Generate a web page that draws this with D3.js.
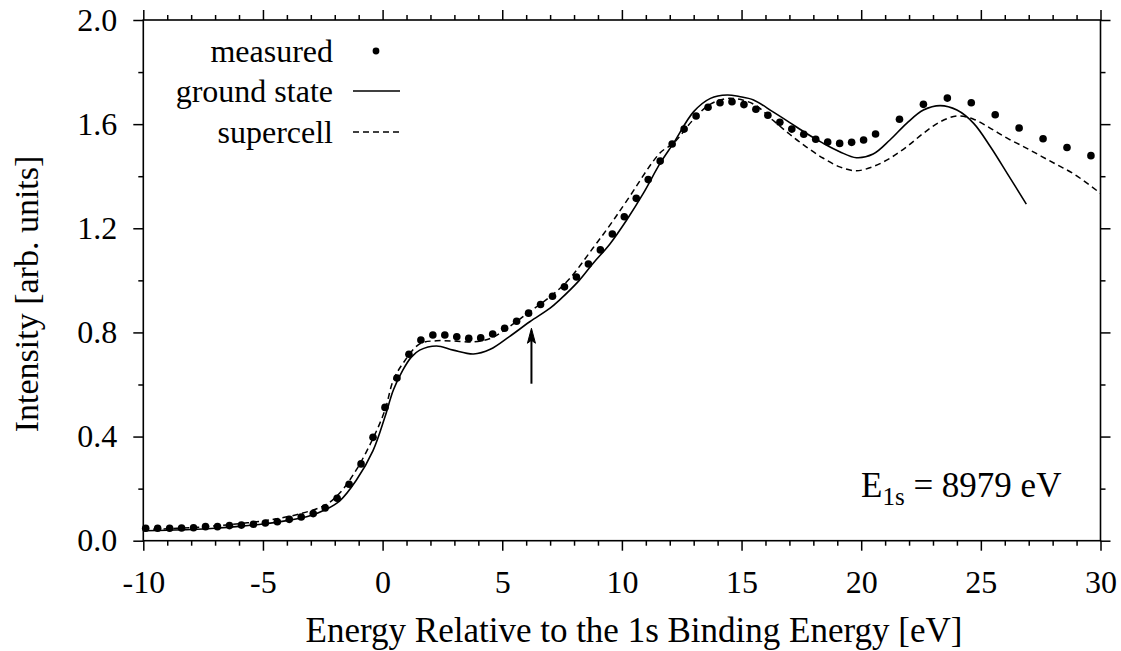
<!DOCTYPE html>
<html>
<head>
<meta charset="utf-8">
<script src="https://cdn.jsdelivr.net/npm/d3@7"></script>
<style>
  body { margin: 0; background: #fff; }
  svg { display: block; }
  text { font-family: "Liberation Serif", "Times New Roman", serif; fill: #000; }
</style>
</head>
<body>
<svg id="chart" width="1121" height="651"></svg>
<script>
// Measured Cu K-edge spectrum (energy in eV relative to the 1s binding energy)
const measuredEnergy = [
  -9.9, -9.4, -8.9, -8.4, -7.9, -7.4, -6.9, -6.4, -5.9, -5.4,
  -4.9, -4.4, -3.9, -3.4, -2.9, -2.4, -1.9, -1.4, -0.9, -0.4,
  0.1, 0.6, 1.1, 1.6, 2.1, 2.6, 3.1, 3.6, 4.1, 4.6,
  5.1, 5.6, 6.1, 6.6, 7.1, 7.6, 8.1, 8.6, 9.1, 9.6,
  10.1, 10.6, 11.1, 11.6, 12.1, 12.6, 13.1, 13.6, 14.1, 14.6,
  15.1, 15.6, 16.1, 16.6, 17.1, 17.6, 18.1, 18.6, 19.1, 19.6,
  20.1, 20.6, 21.6, 22.6, 23.6, 24.6, 25.6, 26.6, 27.6, 28.6, 29.6
];
const measuredIntensity = [
  0.048, 0.048, 0.048, 0.049, 0.050, 0.054, 0.054, 0.058, 0.060, 0.063,
  0.068, 0.073, 0.082, 0.091, 0.104, 0.126, 0.163, 0.217, 0.295, 0.397,
  0.512, 0.625, 0.716, 0.771, 0.790, 0.790, 0.783, 0.777, 0.779, 0.794,
  0.816, 0.843, 0.874, 0.907, 0.939, 0.975, 1.013, 1.063, 1.117, 1.178,
  1.244, 1.315, 1.387, 1.458, 1.524, 1.581, 1.631, 1.665, 1.682, 1.686,
  1.675, 1.657, 1.634, 1.607, 1.581, 1.561, 1.542, 1.531, 1.526, 1.530,
  1.539, 1.562, 1.619, 1.676, 1.700, 1.682, 1.636, 1.585, 1.544, 1.510, 1.479
];

// Calculated spectrum, ground state
const groundEnergy = [
  -10, -9, -8, -7, -6, -5, -4, -3, -2.4, -1.8,
  -1.1, -0.4, 0.1, 0.45, 0.85, 1.2, 1.55, 2.25, 2.95, 3.8,
  4.5, 5.3, 6.15, 7.0, 7.4, 8.2, 8.8, 9.5, 10.2, 10.9,
  11.6, 12.15, 13.0, 13.7, 14.4, 14.9, 15.5, 16.3, 17.0, 17.7,
  18.4, 19.1, 19.8, 20.5, 21.2, 21.9, 22.6, 23.3, 24.0, 24.7,
  25.4, 26.1, 26.9
];
const groundIntensity = [
  0.038, 0.040, 0.043, 0.048, 0.055, 0.064, 0.077, 0.097, 0.119, 0.152,
  0.232, 0.346, 0.476, 0.579, 0.656, 0.705, 0.732, 0.748, 0.732, 0.717,
  0.735, 0.784, 0.841, 0.893, 0.925, 0.998, 1.066, 1.140, 1.232, 1.335,
  1.450, 1.526, 1.648, 1.699, 1.712, 1.706, 1.693, 1.648, 1.607, 1.565,
  1.527, 1.494, 1.471, 1.485, 1.539, 1.603, 1.654, 1.671, 1.654, 1.603,
  1.513, 1.411, 1.293
];

// Calculated spectrum, supercell
const supercellEnergy = [
  -10, -9, -8, -7, -6, -5, -4.5, -3.5, -2.4, -1.8,
  -1.1, -0.4, 0.1, 0.45, 0.85, 1.55, 2.25, 2.95, 3.8, 4.5,
  5.3, 6.15, 7.0, 7.8, 8.8, 9.5, 10.2, 11.6, 12.15, 13.0, 13.7,
  14.5, 15.5, 16.3, 17.0, 17.7, 18.4, 19.1, 19.8, 20.5, 21.2,
  21.9, 22.6, 23.3, 24.0, 24.7, 25.4, 26.1, 26.8, 27.5, 28.2,
  28.9, 30
];
const supercellIntensity = [
  0.042, 0.046, 0.050, 0.057, 0.065, 0.076, 0.083, 0.102, 0.137, 0.182,
  0.272, 0.393, 0.502, 0.617, 0.681, 0.756, 0.768, 0.767, 0.764, 0.777,
  0.822, 0.880, 0.937, 1.005, 1.125, 1.212, 1.305, 1.490, 1.526, 1.619, 1.677,
  1.699, 1.677, 1.616, 1.562, 1.513, 1.470, 1.436, 1.421, 1.437, 1.469,
  1.513, 1.565, 1.609, 1.631, 1.619, 1.584, 1.546, 1.513, 1.478, 1.443,
  1.408, 1.334
];

// Axis ticks
const xMajorTicks = [-10, -5, 0, 5, 10, 15, 20, 25, 30];
const xTickLabels = ["-10", "-5", "0", "5", "10", "15", "20", "25", "30"];
const yMajorTicks = [0, 0.4, 0.8, 1.2, 1.6, 2.0];
const yTickLabels = ["0.0", "0.4", "0.8", "1.2", "1.6", "2.0"];
const xMinorTicks = [-9, -8, -7, -6, -4, -3, -2, -1, 1, 2, 3, 4, 6, 7, 8, 9,
  11, 12, 13, 14, 16, 17, 18, 19, 21, 22, 23, 24, 26, 27, 28, 29];
const yMinorTicks = [0.2, 0.6, 1.0, 1.4, 1.8];

const seriesNames = ["measured", "ground state", "supercell"];
const xTitle = "Energy Relative to the 1s Binding Energy [eV]";
const yTitle = "Intensity [arb. units]";

// Marked feature: arrow at this energy, spanning these intensities
const arrowEnergy = 6.22;
const arrowFrom = 0.603;
const arrowTo = 0.816;

// ---------------------------------------------------------------
const svg = d3.select("#chart");
svg.append("rect").attr("width", 1121).attr("height", 651).attr("fill", "#fff");

const plot = { left: 143.3, right: 1100.5, top: 20, bottom: 540.7 };
const x = d3.scaleLinear().domain([-10, 30]).range([plot.left, plot.right]);
const y = d3.scaleLinear().domain([0, 2]).range([plot.bottom, plot.top]);

const fontSize = 32;
const titleSize = 35;
const majorLen = 10, minorLen = 5;

function styleAxis(g) {
  g.select(".domain").remove();
  g.selectAll("line").attr("stroke", "#000").attr("stroke-width", 1.5);
  g.selectAll("text").attr("font-size", fontSize)
    .attr("font-family", '"Liberation Serif", serif').attr("fill", "#000");
}

// bottom
const bottom = svg.append("g").attr("transform", `translate(0,${plot.bottom})`)
  .call(d3.axisBottom(x).tickValues(xMajorTicks).tickSize(majorLen)
    .tickFormat((d, i) => xTickLabels[i]));
bottom.call(styleAxis);
bottom.selectAll("text").attr("y", 52).attr("dy", null);
svg.append("g").attr("transform", `translate(0,${plot.bottom})`)
  .call(d3.axisBottom(x).tickValues(xMinorTicks).tickSize(minorLen).tickFormat(""))
  .call(styleAxis);

// top
svg.append("g").attr("transform", `translate(0,${plot.top})`)
  .call(d3.axisTop(x).tickValues(xMajorTicks).tickSize(majorLen).tickFormat(""))
  .call(styleAxis);
svg.append("g").attr("transform", `translate(0,${plot.top})`)
  .call(d3.axisTop(x).tickValues(xMinorTicks).tickSize(minorLen).tickFormat(""))
  .call(styleAxis);

// left
const left = svg.append("g").attr("transform", `translate(${plot.left},0)`)
  .call(d3.axisLeft(y).tickValues(yMajorTicks).tickSize(majorLen).tickPadding(16)
    .tickFormat((d, i) => yTickLabels[i]));
left.call(styleAxis);
svg.append("g").attr("transform", `translate(${plot.left},0)`)
  .call(d3.axisLeft(y).tickValues(yMinorTicks).tickSize(minorLen).tickFormat(""))
  .call(styleAxis);

// right
svg.append("g").attr("transform", `translate(${plot.right},0)`)
  .call(d3.axisRight(y).tickValues(yMajorTicks).tickSize(majorLen).tickFormat(""))
  .call(styleAxis);
svg.append("g").attr("transform", `translate(${plot.right},0)`)
  .call(d3.axisRight(y).tickValues(yMinorTicks).tickSize(minorLen).tickFormat(""))
  .call(styleAxis);

// frame
svg.append("rect")
  .attr("x", plot.left).attr("y", plot.top)
  .attr("width", plot.right - plot.left).attr("height", plot.bottom - plot.top)
  .attr("fill", "none").attr("stroke", "#000").attr("stroke-width", 1.6);

// curves
const line = d3.line()
  .x(d => x(d[0])).y(d => y(d[1]))
  .curve(d3.curveCatmullRom.alpha(0.5));

const groundData = groundEnergy.map((e, i) => [e, groundIntensity[i]]);
const supercellData = supercellEnergy.map((e, i) => [e, supercellIntensity[i]]);
const measuredData = measuredEnergy.map((e, i) => [e, measuredIntensity[i]]);

svg.append("path").datum(supercellData)
  .attr("d", line).attr("fill", "none").attr("stroke", "#000")
  .attr("stroke-width", 1.5).attr("stroke-dasharray", "6,4");

svg.append("path").datum(groundData)
  .attr("d", line).attr("fill", "none").attr("stroke", "#000")
  .attr("stroke-width", 1.6);

svg.append("g").selectAll("circle").data(measuredData).join("circle")
  .attr("cx", d => x(d[0])).attr("cy", d => y(d[1]))
  .attr("r", 3.8).attr("fill", "#000");

// arrow
const ax = x(arrowEnergy), ay0 = y(arrowFrom), ay1 = y(arrowTo);
svg.append("line")
  .attr("x1", ax).attr("x2", ax).attr("y1", ay0).attr("y2", ay1 + 6)
  .attr("stroke", "#000").attr("stroke-width", 2);
svg.append("path")
  .attr("d", `M${ax},${ay1} L${ax - 4},${ay1 + 15} L${ax},${ay1 + 12} L${ax + 4},${ay1 + 15} Z`)
  .attr("fill", "#000").attr("stroke", "#000").attr("stroke-width", 1);

// legend
const legend = svg.append("g");
const legendRows = [62, 102, 143];
const legendTextX = 333;
seriesNames.forEach((name, i) => {
  legend.append("text")
    .attr("x", legendTextX).attr("y", legendRows[i])
    .attr("text-anchor", "end").attr("font-size", fontSize)
    .text(name);
});
legend.append("circle").attr("cx", 376).attr("cy", legendRows[0] - 11)
  .attr("r", 3.4).attr("fill", "#000");
legend.append("line").attr("x1", 353).attr("x2", 400)
  .attr("y1", legendRows[1] - 11).attr("y2", legendRows[1] - 11)
  .attr("stroke", "#000").attr("stroke-width", 1.5);
legend.append("line").attr("x1", 353).attr("x2", 400)
  .attr("y1", legendRows[2] - 11).attr("y2", legendRows[2] - 11)
  .attr("stroke", "#000").attr("stroke-width", 1.5).attr("stroke-dasharray", "6,4");

// edge energy annotation
const note = svg.append("text").attr("x", 861).attr("y", 497).attr("font-size", titleSize);
note.append("tspan").text("E");
note.append("tspan").attr("font-size", 25).attr("dy", 8).text("1s");
note.append("tspan").attr("dy", -8).text(" = 8979 eV");

// axis titles
svg.append("text")
  .attr("x", 634).attr("y", 642)
  .attr("text-anchor", "middle").attr("font-size", titleSize)
  .text(xTitle);

svg.append("text")
  .attr("transform", `translate(38,294) rotate(-90)`)
  .attr("text-anchor", "middle").attr("font-size", 34)
  .text(yTitle);
</script>
</body>
</html>
